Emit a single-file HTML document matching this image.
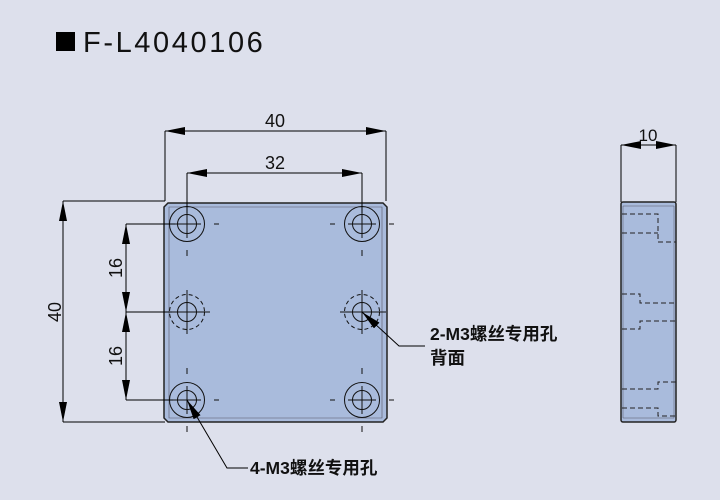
<!DOCTYPE html>
<html><head><meta charset="utf-8"><style>
body{margin:0;background:#dde0ec;}
svg{display:block}
text{font-family:"Liberation Sans","Noto Sans CJK SC",sans-serif;fill:#111}
</style></head><body>
<svg width="720" height="500" viewBox="0 0 720 500" xmlns="http://www.w3.org/2000/svg">
<defs>
<marker id="a" viewBox="0 0 20 8" refX="20" refY="4" markerWidth="20" markerHeight="8" markerUnits="userSpaceOnUse" orient="auto-start-reverse"><path d="M0,0L20,4L0,8z" fill="#000"/></marker>
</defs>
<rect x="56" y="32" width="19" height="19" fill="#000"/>
<text x="83" y="52" font-size="29" letter-spacing="2.6">F-L4040106</text>

<!-- plate -->
<path d="M168,203 H383 L387,207 V418 L383,422 H168 L164,418 V207 Z" fill="#a9bbdc" stroke="#222" stroke-width="1.5"/>
<path d="M169,207 H382 V418 H169 Z" fill="none" stroke="#556" stroke-width="0.6"/>
<g fill="none" stroke="#111" stroke-width="1">
<circle cx="187" cy="224" r="17.5"/><circle cx="187" cy="224" r="9.5"/>
<circle cx="362" cy="224" r="17.5"/><circle cx="362" cy="224" r="9.5"/>
<circle cx="187" cy="400" r="17.5"/><circle cx="187" cy="400" r="9.5"/>
<circle cx="362" cy="400" r="17.5"/><circle cx="362" cy="400" r="9.5"/>
<circle cx="187" cy="312" r="9.5"/><circle cx="362" cy="312" r="9.5"/>
<circle cx="187" cy="312" r="17.5" stroke-dasharray="4 3"/>
<circle cx="362" cy="312" r="17.5" stroke-dasharray="4 3"/>
<path d="M173,224H201M187,210V238M348,224H376M362,210V238M173,400H201M187,386V414M348,400H376M362,386V414M167,312H210M187,290V334M340,312H386M362,290V334"/>
<path d="M187,250V256M362,250V256M187,368V374M362,368V374M187,426V432M362,426V432M214,224H219M330,224H335M389,224H394M214,400H219M330,400H335M389,400H394" />
</g>

<!-- dimensions -->
<g fill="none" stroke="#000" stroke-width="1">
<path d="M165,201V131M386,201V131"/>
<path d="M165,131H386" marker-start="url(#a)" marker-end="url(#a)"/>
<path d="M187,213V173M362,213V173"/>
<path d="M187,173H362" marker-start="url(#a)" marker-end="url(#a)"/>
<path d="M165,201H63M165,422H63"/>
<path d="M63,201V422" marker-start="url(#a)" marker-end="url(#a)"/>
<path d="M126,224H175M126,312H172M126,400H173"/>
<path d="M126,224V312" marker-start="url(#a)" marker-end="url(#a)"/>
<path d="M126,312V400" marker-start="url(#a)" marker-end="url(#a)"/>
<path d="M621,202V145M676,202V145"/>
<path d="M621,145H676" marker-start="url(#a)" marker-end="url(#a)"/>
</g>
<text x="275" y="127" font-size="18" text-anchor="middle">40</text>
<text x="275" y="169" font-size="18" text-anchor="middle">32</text>
<text x="648" y="141" font-size="17" text-anchor="middle">10</text>
<text transform="translate(61,312) rotate(-90)" font-size="18" text-anchor="middle">40</text>
<text transform="translate(122,268) rotate(-90)" font-size="18" text-anchor="middle">16</text>
<text transform="translate(122,356) rotate(-90)" font-size="18" text-anchor="middle">16</text>

<!-- leaders -->
<g fill="none" stroke="#000" stroke-width="1">
<path d="M425,346H399L362,312" marker-end="url(#a)"/>
<path d="M248,468H227L187,400" marker-end="url(#a)"/>
</g>
<text x="430" y="340" font-size="17.5" font-weight="bold">2-M3螺丝专用孔</text>
<text x="430" y="364" font-size="17.5" font-weight="bold">背面</text>
<text x="250" y="474" font-size="17.5" font-weight="bold">4-M3螺丝专用孔</text>

<!-- side view -->
<rect x="621" y="202" width="55" height="220" rx="2" fill="#a9bbdc" stroke="#222" stroke-width="1.5"/>
<path d="M623,206H674M623,418H674M623,206V418M674,206V418" fill="none" stroke="#556" stroke-width="0.5"/>
<g fill="none" stroke="#222" stroke-width="1" stroke-dasharray="5 3">
<path d="M622,214H658V242H676M622,233H658"/>
<path d="M622,294H640V303H676M622,329H640V321H676"/>
<path d="M622,389H658V382H676M622,408H658V416H676"/>
</g>
</svg>
</body></html>
